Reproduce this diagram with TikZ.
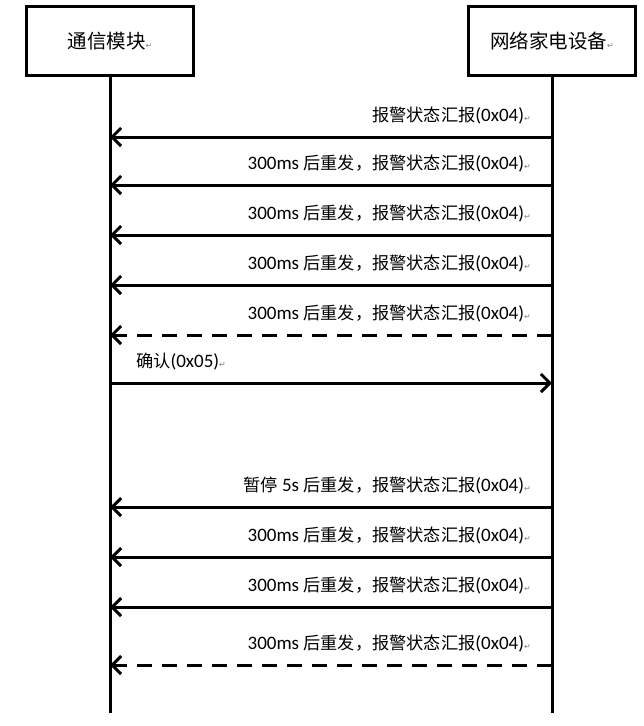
\documentclass[tikz,border=0pt]{standalone}
\usepackage{fontspec}
\setmainfont{Carlito}
\newfontfamily\cjk{Noto Sans CJK SC}[FakeBold=0]
\newfontfamily\symf{DejaVu Sans}
\usetikzlibrary{arrows.meta}
\newcommand\pmark{{\symf\color{gray}\fontsize{8}{8}\selectfont ↵}}
\newcommand\zh[1]{{\cjk\fontsize{17.2}{20}\selectfont #1}}
\newcommand\en[1]{{\fontsize{19}{20}\selectfont #1}}
\newcommand\resend{\en{300ms }\zh{后重发，报警状态汇报}\en{(0x04)}\pmark}
\begin{document}
\begin{tikzpicture}[x=1pt,y=-1pt,
  box/.style={draw,line width=3pt,minimum width=167pt,minimum height=69pt,inner sep=0pt,font=\cjk\fontsize{19.5}{22}\selectfont},
  life/.style={line width=3pt},
  msg/.style={line width=3pt,-{Straight Barb[length=9pt,width=18pt,line width=3pt]}},
  dmsg/.style={msg,dash pattern=on 15pt off 10pt},
  lbl/.style={anchor=base east,inner sep=0pt}]
\useasboundingbox (0,0) rectangle (644,726);
\fill[white] (0,0) rectangle (644,726);
\node[box] (cm) at (110,41) {通信模块\pmark};
\node[box] (dev) at (552,41) {网络家电设备\pmark};
\coordinate (cmEnd) at (110,713);
\coordinate (devEnd) at (552,713);
\draw[life] (cm.south) -- (cmEnd);
\draw[life] (dev.south) -- (devEnd);
\foreach \n/\y in {1/137,2/185,3/235,4/285,5/335,6/383,7/507,8/557,9/607,10/665}{
  \coordinate (L\n) at (110,\y);
  \coordinate (R\n) at (552,\y);
  \coordinate (T\n) at (531,\y-16);
}
\draw[msg] (R1) -- (L1);
\draw[msg] (R2) -- (L2);
\draw[msg] (R3) -- (L3);
\draw[msg] (R4) -- (L4);
\draw[dmsg] (R5) -- (L5);
\draw[msg] (L6) -- (R6);
\draw[msg] (R7) -- (L7);
\draw[msg] (R8) -- (L8);
\draw[msg] (R9) -- (L9);
\draw[dmsg] (R10) -- (L10);
\node[lbl] (t1) at (T1) {\zh{报警状态汇报}\en{(0x04)}\pmark};
\node[lbl] (t2) at (T2) {\resend};
\node[lbl] (t3) at (T3) {\resend};
\node[lbl] (t4) at (T4) {\resend};
\node[lbl] (t5) at (T5) {\resend};
\node[anchor=base west,inner sep=0pt] (t6) at (136,367) {\zh{确认}\en{(0x05)}\pmark};
\node[lbl] (t7) at (T7) {\zh{暂停}\en{ 5s }\zh{后重发，报警状态汇报}\en{(0x04)}\pmark};
\node[lbl] (t8) at (T8) {\resend};
\node[lbl] (t9) at (T9) {\resend};
\node[lbl] (t10) at (T10) {\resend};
\end{tikzpicture}
\end{document}
